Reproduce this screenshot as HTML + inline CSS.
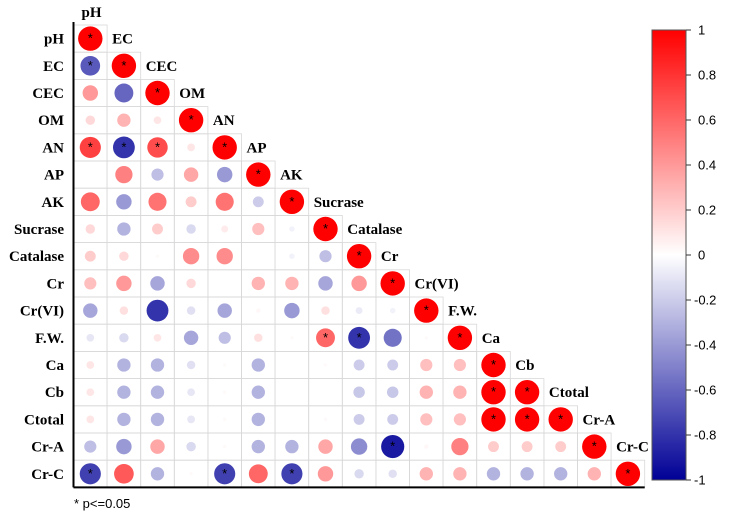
<!DOCTYPE html>
<html><head><meta charset="utf-8"><style>
html,body{margin:0;padding:0;background:#fff;}
svg{display:block;}
</style></head><body>
<svg id="chart" width="735" height="518"></svg>
<script>
const labels=["pH","EC","CEC","OM","AN","AP","AK","Sucrase","Catalase","Cr","Cr(VI)","F.W.","Ca","Cb","Ctotal","Cr-A","Cr-C"];
const row1=[-0.65];
const row2=[0.4,-0.6];
const row3=[0.15,0.3,0.1];
const row4=[0.75,-0.8,0.7,0.1];
const row5=[0,0.5,-0.25,0.35,-0.4];
const row6=[0.6,-0.4,0.55,0.2,0.55,-0.2];
const row7=[0.15,-0.3,0.2,-0.15,0.08,0.25,-0.05];
const row8=[0.2,0.15,0.02,0.45,0.45,0,-0.05,-0.25];
const row9=[0.25,0.4,-0.35,0.15,0,0.3,0.3,-0.35,0.4];
const row10=[-0.35,0.12,-0.8,-0.12,-0.35,0.03,-0.4,0.12,-0.08,-0.05];
const row11=[-0.1,-0.15,0.1,-0.35,-0.25,0.12,0.02,0.6,-0.8,-0.55,0.02];
const row12=[0.1,-0.3,-0.3,-0.12,0.02,-0.3,0,0.02,-0.2,-0.2,0.25,0.25];
const row13=[0.1,-0.3,-0.3,-0.1,0.02,-0.3,0,0,-0.22,-0.22,0.3,0.3,1];
const row14=[0.1,-0.3,-0.3,-0.1,0.02,-0.3,0,0.02,-0.2,-0.2,0.25,0.25,1,1];
const row15=[-0.25,-0.4,0.35,-0.15,0.02,-0.3,-0.3,0.35,-0.45,-0.9,0.03,0.5,0.2,0.2,0.2];
const row16=[-0.75,0.65,-0.3,0.02,-0.75,0.6,-0.75,0.4,-0.15,-0.12,0.3,0.3,-0.3,-0.3,-0.3,0.3];
const sig=[[1,0],[4,0],[4,1],[4,2],[11,7],[11,8],[13,12],[14,12],[14,13],[15,9],[16,0],[16,4],[16,6]];
const ticks=[1,0.8,0.6,0.4,0.2,0,-0.2,-0.4,-0.6,-0.8,-1];
const rows=[[],row1,row2,row3,row4,row5,row6,row7,row8,row9,row10,row11,row12,row13,row14,row15,row16];

const NS="http://www.w3.org/2000/svg";
const svg=document.getElementById('chart');
const X0=73.5,Y0=25,CW=33.6,CH=27.2;
const cx=j=>X0+CW*(j+0.5), cy=i=>Y0+CH*(i+0.5);
const CB={x:652,y:30,w:34,h:450};
const cbY=v=>CB.y+(1-v)/2*CB.h;
function mk(t,a){const e=document.createElementNS(NS,t);for(const k in a)e.setAttribute(k,a[k]);svg.appendChild(e);return e;}
function col(v){
  if(v>=0){const t=v;return `rgb(255,${Math.round(255*(1-t))},${Math.round(255*(1-t))})`;}
  const t=-v;return `rgb(${Math.round(255*(1-t))},${Math.round(255*(1-t))},${Math.round(255-(255-150)*t)})`;
}
const SERIF='"Liberation Serif",serif', SANS='"Liberation Sans",sans-serif';
for(let i=0;i<17;i++){for(let j=0;j<=i;j++){
  const r=mk('rect',{x:X0+CW*j,y:Y0+CH*i,width:CW,height:CH,fill:'none',stroke:'#d8d8d8','stroke-width':0.8});
  
  
}}
for(let i=0;i<17;i++){for(let j=0;j<=i;j++){
  const v=(i===j)?1:rows[i][j];
  const rad=12.2*Math.sqrt(Math.abs(v));
  if(rad<0.5)continue;
  const c=mk('circle',{cx:cx(j),cy:cy(i),r:rad,fill:col(v)});
  
  
  const s=(i===j)||sig.some(p=>p[0]===i&&p[1]===j);
  if(s){const t=mk('text',{x:cx(j),y:cy(i)+4,'text-anchor':'middle','font-family':SANS,'font-size':13,fill:'#000'});t.textContent='*';
    
    }
}}
let ax=mk('line',{x1:X0,y1:Y0-3,x2:X0,y2:Y0+CH*17,stroke:'#000','stroke-width':2});

ax=mk('line',{x1:X0,y1:Y0+CH*17,x2:X0+CW*17,y2:Y0+CH*17,stroke:'#000','stroke-width':2});

labels.forEach((l,i)=>{
  const t=mk('text',{x:64,y:cy(i)+5,'text-anchor':'end','font-family':SERIF,'font-weight':'bold','font-size':15,fill:'#000'});
  t.textContent=l;
  
  
  const t2=mk('text',{x:X0+CW*i+(i===0?8:5),y:i===0?17:cy(i-1)+5,'text-anchor':'start','font-family':SERIF,'font-weight':'bold','font-size':15,fill:'#000'});
  t2.textContent=l;
  
  
});
const defs=mk('defs',{});
const g=document.createElementNS(NS,'linearGradient');g.setAttribute('id','cbg');g.setAttribute('x1',0);g.setAttribute('y1',0);g.setAttribute('x2',0);g.setAttribute('y2',1);defs.appendChild(g);
for(let k=0;k<=20;k++){const v=1-k/10;const st=document.createElementNS(NS,'stop');st.setAttribute('offset',(k/20));st.setAttribute('stop-color',col(v));g.appendChild(st);}
const cb=mk('rect',{x:CB.x,y:CB.y,width:CB.w,height:CB.h,fill:'url(#cbg)',stroke:'#555','stroke-width':1});

ticks.forEach(v=>{
  const y=cbY(v);
  const l=mk('line',{x1:CB.x+CB.w,y1:y,x2:CB.x+CB.w+5,y2:y,stroke:'#333','stroke-width':1});
  
  const t=mk('text',{x:CB.x+CB.w+(v<0?8:12),y:y+4.5,'font-family':SANS,'font-size':13,fill:'#000'});
  t.textContent=(Math.round(v*10)/10).toString();
  
});
const fn=mk('text',{x:74,y:508,'font-family':SANS,'font-size':13,fill:'#000'});
fn.textContent='* p<=0.05';

</script>
</body></html>
